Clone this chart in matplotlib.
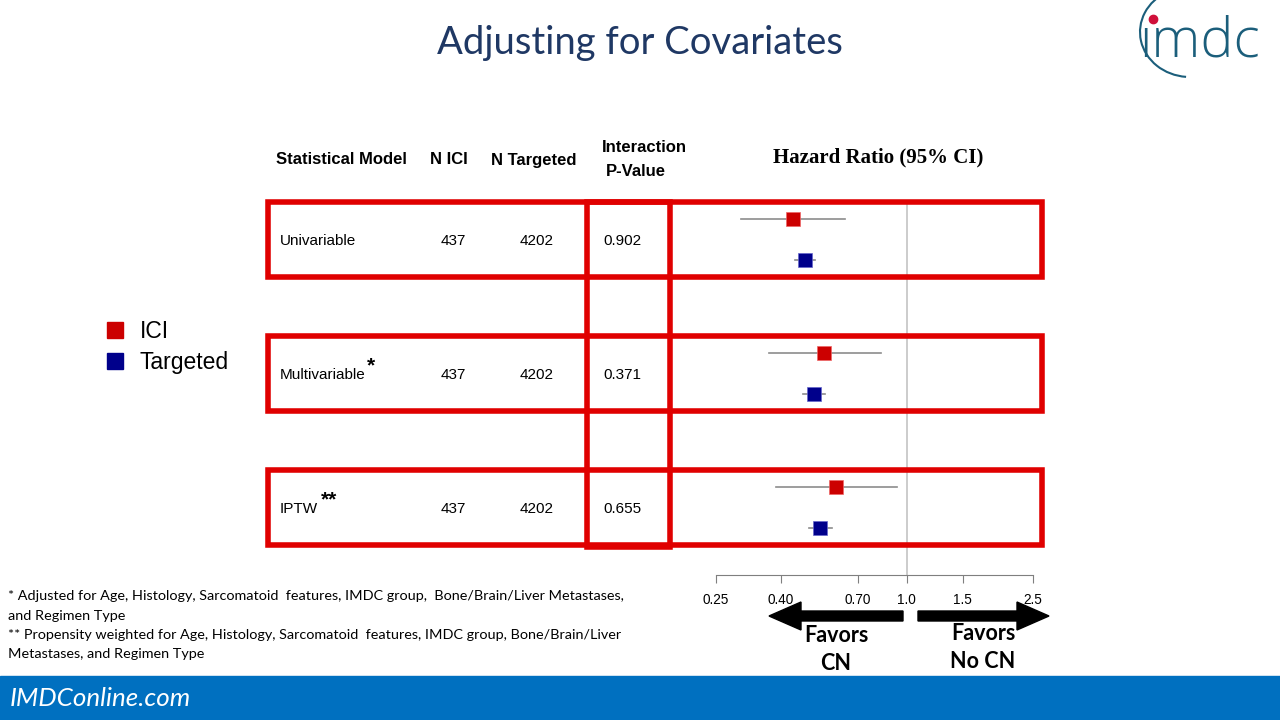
import numpy as np
import matplotlib.pyplot as plt
from matplotlib.patches import Rectangle, FancyArrow, Arc

# --- данные ---
models = ['Univariable', 'Multivariable', 'IPTW']
model_marks = ['', '*', '**']
n_ici = [437, 437, 437]
n_targeted = [4202, 4202, 4202]
p_values = ['0.902', '0.371', '0.655']

hr_ici = [0.437, 0.547, 0.597]
lo_ici = [0.30, 0.368, 0.386]
hi_ici = [0.638, 0.827, 0.928]

hr_tgt = [0.477, 0.510, 0.532]
lo_tgt = [0.443, 0.470, 0.490]
hi_tgt = [0.513, 0.551, 0.579]

x_ticks = [0.25, 0.40, 0.70, 1.0, 1.5, 2.5]
x_tick_labels = ['0.25', '0.40', '0.70', '1.0', '1.5', '2.5']

footnotes = [
    '* Adjusted for Age, Histology, Sarcomatoid  features, IMDC group,  Bone/Brain/Liver Metastases,',
    'and Regimen Type',
    '** Propensity weighted for Age, Histology, Sarcomatoid  features, IMDC group, Bone/Brain/Liver',
    'Metastases, and Regimen Type',
]

RED = '#E00000'
ICI_COL = '#CC0000'
TGT_COL = '#00008B'
TITLE_COL = '#1F3864'
BAR_COL = '#0070C0'
LOGO_COL = '#1B5E7B'

fig = plt.figure(figsize=(12.8, 7.2), dpi=100)

# forest plot axes (x: log HR, y: pixel rows)
fax = fig.add_axes([716 / 1280, (720 - 575) / 720, 317 / 1280, (575 - 200) / 720])
fax.set_xscale('log')
fax.set_xlim(0.25, 2.5)
fax.set_ylim(575, 200)
fax.axvline(1.0, color='#c8c8c8', lw=1.3, zorder=1)
for i in range(len(models)):
    y1 = 219 + 134 * i
    y2 = 260 + 134 * i
    fax.plot([lo_ici[i], hi_ici[i]], [y1, y1], color='#8c8c8c', lw=1.2, zorder=2)
    fax.plot(hr_ici[i], y1, 's', ms=10, color=ICI_COL, mec='#ee6666', mew=0.5, zorder=3)
    fax.plot([lo_tgt[i], hi_tgt[i]], [y2, y2], color='#8c8c8c', lw=1.2, zorder=2)
    fax.plot(hr_tgt[i], y2, 's', ms=10, color=TGT_COL, mec='#6666cc', mew=0.5, zorder=3)
for s in ['top', 'right', 'left']:
    fax.spines[s].set_visible(False)
fax.spines['bottom'].set_color('#7f7f7f')
fax.set_yticks([])
fax.set_xticks(x_ticks)
fax.set_xticklabels(x_tick_labels, fontsize=9.8, family='Liberation Sans')
fax.xaxis.set_minor_locator(plt.NullLocator())
fax.tick_params(axis='x', length=6, color='#7f7f7f', pad=7)
fax.patch.set_alpha(0)

# overlay in pixel coordinates
ax = fig.add_axes([0, 0, 1, 1])
ax.set_xlim(0, 1280)
ax.set_ylim(720, 0)
ax.axis('off')
ax.patch.set_alpha(0)

ax.text(640, 43, 'Adjusting for Covariates', ha='center', va='center',
        fontsize=27.5, color=TITLE_COL, family='Lato')

# logo
ax.text(1200, 42, 'ımdc', ha='center', va='center', fontsize=40, color=LOGO_COL,
        family='Open Sans', fontweight='light')
ax.plot(1153, 19, 'o', ms=6, color='#D0103A')
ax.add_patch(Arc((1190, 32), 100, 90, theta1=95, theta2=240, color=LOGO_COL, lw=1.5))

# headers
hdr = dict(fontsize=12, fontweight='bold', family='Liberation Sans', va='center')
ax.text(276, 160, 'Statistical Model', ha='left', **hdr)
ax.text(449, 160, 'N ICI', ha='center', **hdr)
ax.text(534, 160, 'N Targeted', ha='center', **hdr)
ax.text(644, 147, 'Interaction', ha='center', **hdr)
ax.text(636, 172, 'P-Value', ha='center', **hdr)
ax.text(878, 157, 'Hazard Ratio (95% CI)', ha='center', va='center', fontsize=15,
        fontweight='bold', family='Liberation Serif')

# rows
for i, m in enumerate(models):
    y = 241 + 134 * i
    ax.text(280, y, m, ha='left', va='center', fontsize=11, family='Liberation Sans')
    if model_marks[i]:
        xm = 367 if i == 1 else 321
        ax.text(xm, y - 9, model_marks[i], ha='left', va='center', fontsize=15,
                fontweight='bold', family='Liberation Sans')
    ax.text(453, y, str(n_ici[i]), ha='center', va='center', fontsize=11, family='Liberation Sans')
    ax.text(537, y, str(n_targeted[i]), ha='center', va='center', fontsize=11, family='Liberation Sans')
    ax.text(603, y, p_values[i], ha='left', va='center', fontsize=11, family='Liberation Sans')
    top = 202 + 134 * i
    ax.add_patch(Rectangle((268, top), 774, 75, fill=False, ec=RED, lw=4, zorder=5))

ax.add_patch(Rectangle((587, 202), 83, 345, fill=False, ec=RED, lw=4, zorder=5))

# legend
ax.add_patch(Rectangle((107, 322), 16, 16, color=ICI_COL))
ax.add_patch(Rectangle((107, 353), 16, 16, color=TGT_COL))
ax.text(140, 331, 'ICI', ha='left', va='center', fontsize=16.5, family='Liberation Sans')
ax.text(140, 362, 'Targeted', ha='left', va='center', fontsize=16.5, family='Liberation Sans')

# arrows
ax.add_patch(FancyArrow(903, 616, -134, 0, width=10, head_width=28, head_length=32,
                        length_includes_head=True, color='black'))
ax.add_patch(FancyArrow(918, 616, 131, 0, width=10, head_width=28, head_length=32,
                        length_includes_head=True, color='black'))
fav = dict(ha='center', va='center', fontsize=15.5, fontweight='bold', family='Lato')
ax.text(836, 635, 'Favors', **fav)
ax.text(836, 663, 'CN', **fav)
ax.text(983, 633, 'Favors', **fav)
ax.text(983, 661, 'No CN', **fav)

# footnotes
for k, line in enumerate(footnotes):
    ax.text(8, 596 + 19.5 * k, line, ha='left', va='center', fontsize=10.4, family='Lato')

# bottom bar
ax.add_patch(Rectangle((0, 676), 1280, 44, color=BAR_COL))
ax.text(10, 698, 'IMDConline.com', ha='left', va='center', fontsize=18.7, style='italic',
        color='white', family='Lato')

fig.savefig('out.png', dpi=100)
